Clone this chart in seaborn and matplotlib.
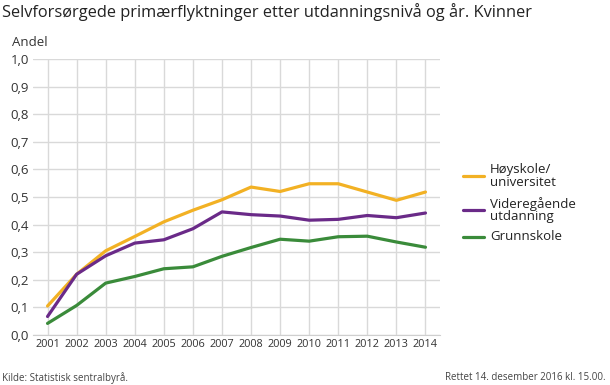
import pandas as pd
import matplotlib.pyplot as plt
import seaborn as sns

# values
years = list(range(2001, 2015))
hoyskole = [0.105, 0.22, 0.305, 0.357, 0.41, 0.452, 0.49, 0.536, 0.52, 0.548, 0.548, 0.518, 0.488, 0.518]
videregaende = [0.067, 0.22, 0.287, 0.333, 0.345, 0.385, 0.446, 0.436, 0.431, 0.416, 0.419, 0.433, 0.425, 0.442]
grunnskole = [0.042, 0.107, 0.188, 0.212, 0.24, 0.247, 0.285, 0.317, 0.347, 0.34, 0.356, 0.358, 0.337, 0.318]
series_names = ["Høyskole/\nuniversitet", "Videregående\nutdanning", "Grunnskole"]
colors = ["#F2B124", "#6A2A88", "#3A8B3A"]
y_ticks = [i / 10 for i in range(11)]
y_labels = [f"{v:.1f}".replace(".", ",") for v in y_ticks]

df = pd.DataFrame({
    "year": years * 3,
    "value": hoyskole + videregaende + grunnskole,
    "series": [series_names[0]] * 14 + [series_names[1]] * 14 + [series_names[2]] * 14,
})

sns.set_style("white")
plt.rcParams['font.family'] = ['Open Sans', 'DejaVu Sans']

fig = plt.figure(figsize=(6.1, 3.85), dpi=100)
ax = fig.add_axes([33 / 610, 1 - 335 / 385, (440 - 33) / 610, (335 - 59) / 385])

sns.lineplot(data=df, x="year", y="value", hue="series", palette=colors,
             linewidth=2.3, ax=ax, legend=False)

ax.set_xlim(2000.5, 2014.5)
ax.set_ylim(0, 1.0)
ax.set_yticks(y_ticks)
ax.set_yticklabels(y_labels, fontsize=9.5, color="#333333")
ax.set_xticks(years)
ax.set_xticklabels([str(y) for y in years], fontsize=7.8, color="#333333")
ax.tick_params(axis="both", length=0, pad=3)
ax.grid(True, color="#d9d9d9", linewidth=1)
ax.set_axisbelow(True)
for s in ["top", "right", "left"]:
    ax.spines[s].set_visible(False)
ax.spines["bottom"].set_color("#cfcfcf")
ax.set_xlabel("")
ax.set_ylabel("")

# legend drawn manually to match layout
leg_y = [176, 210, 237]
for name, c, yy in zip(series_names, colors, leg_y):
    fy = 1 - yy / 385
    fig.add_artist(plt.Line2D([463 / 610, 484 / 610], [fy, fy], color=c, linewidth=2.3))
    fig.text(490 / 610, fy, name, fontsize=9.5, color="#222222", va="center", ha="left",
             linespacing=0.95)

fig.text(2 / 610, 1 - 12 / 385, "Selvforsørgede primærflyktninger etter utdanningsnivå og år. Kvinner",
         fontsize=11.75, color="#222222", va="center", ha="left")
fig.text(12 / 610, 1 - 42 / 385, "Andel", fontsize=9.5, color="#333333", va="center", ha="left")
fig.text(2 / 610, 1 - 378 / 385, "Kilde: Statistisk sentralbyrå.", fontsize=7, color="#444444",
         va="center", ha="left")
fig.text(606 / 610, 1 - 378 / 385, "Rettet 14. desember 2016 kl. 15.00.", fontsize=7, color="#444444",
         va="center", ha="right")

fig.savefig("out.png", dpi=100)
